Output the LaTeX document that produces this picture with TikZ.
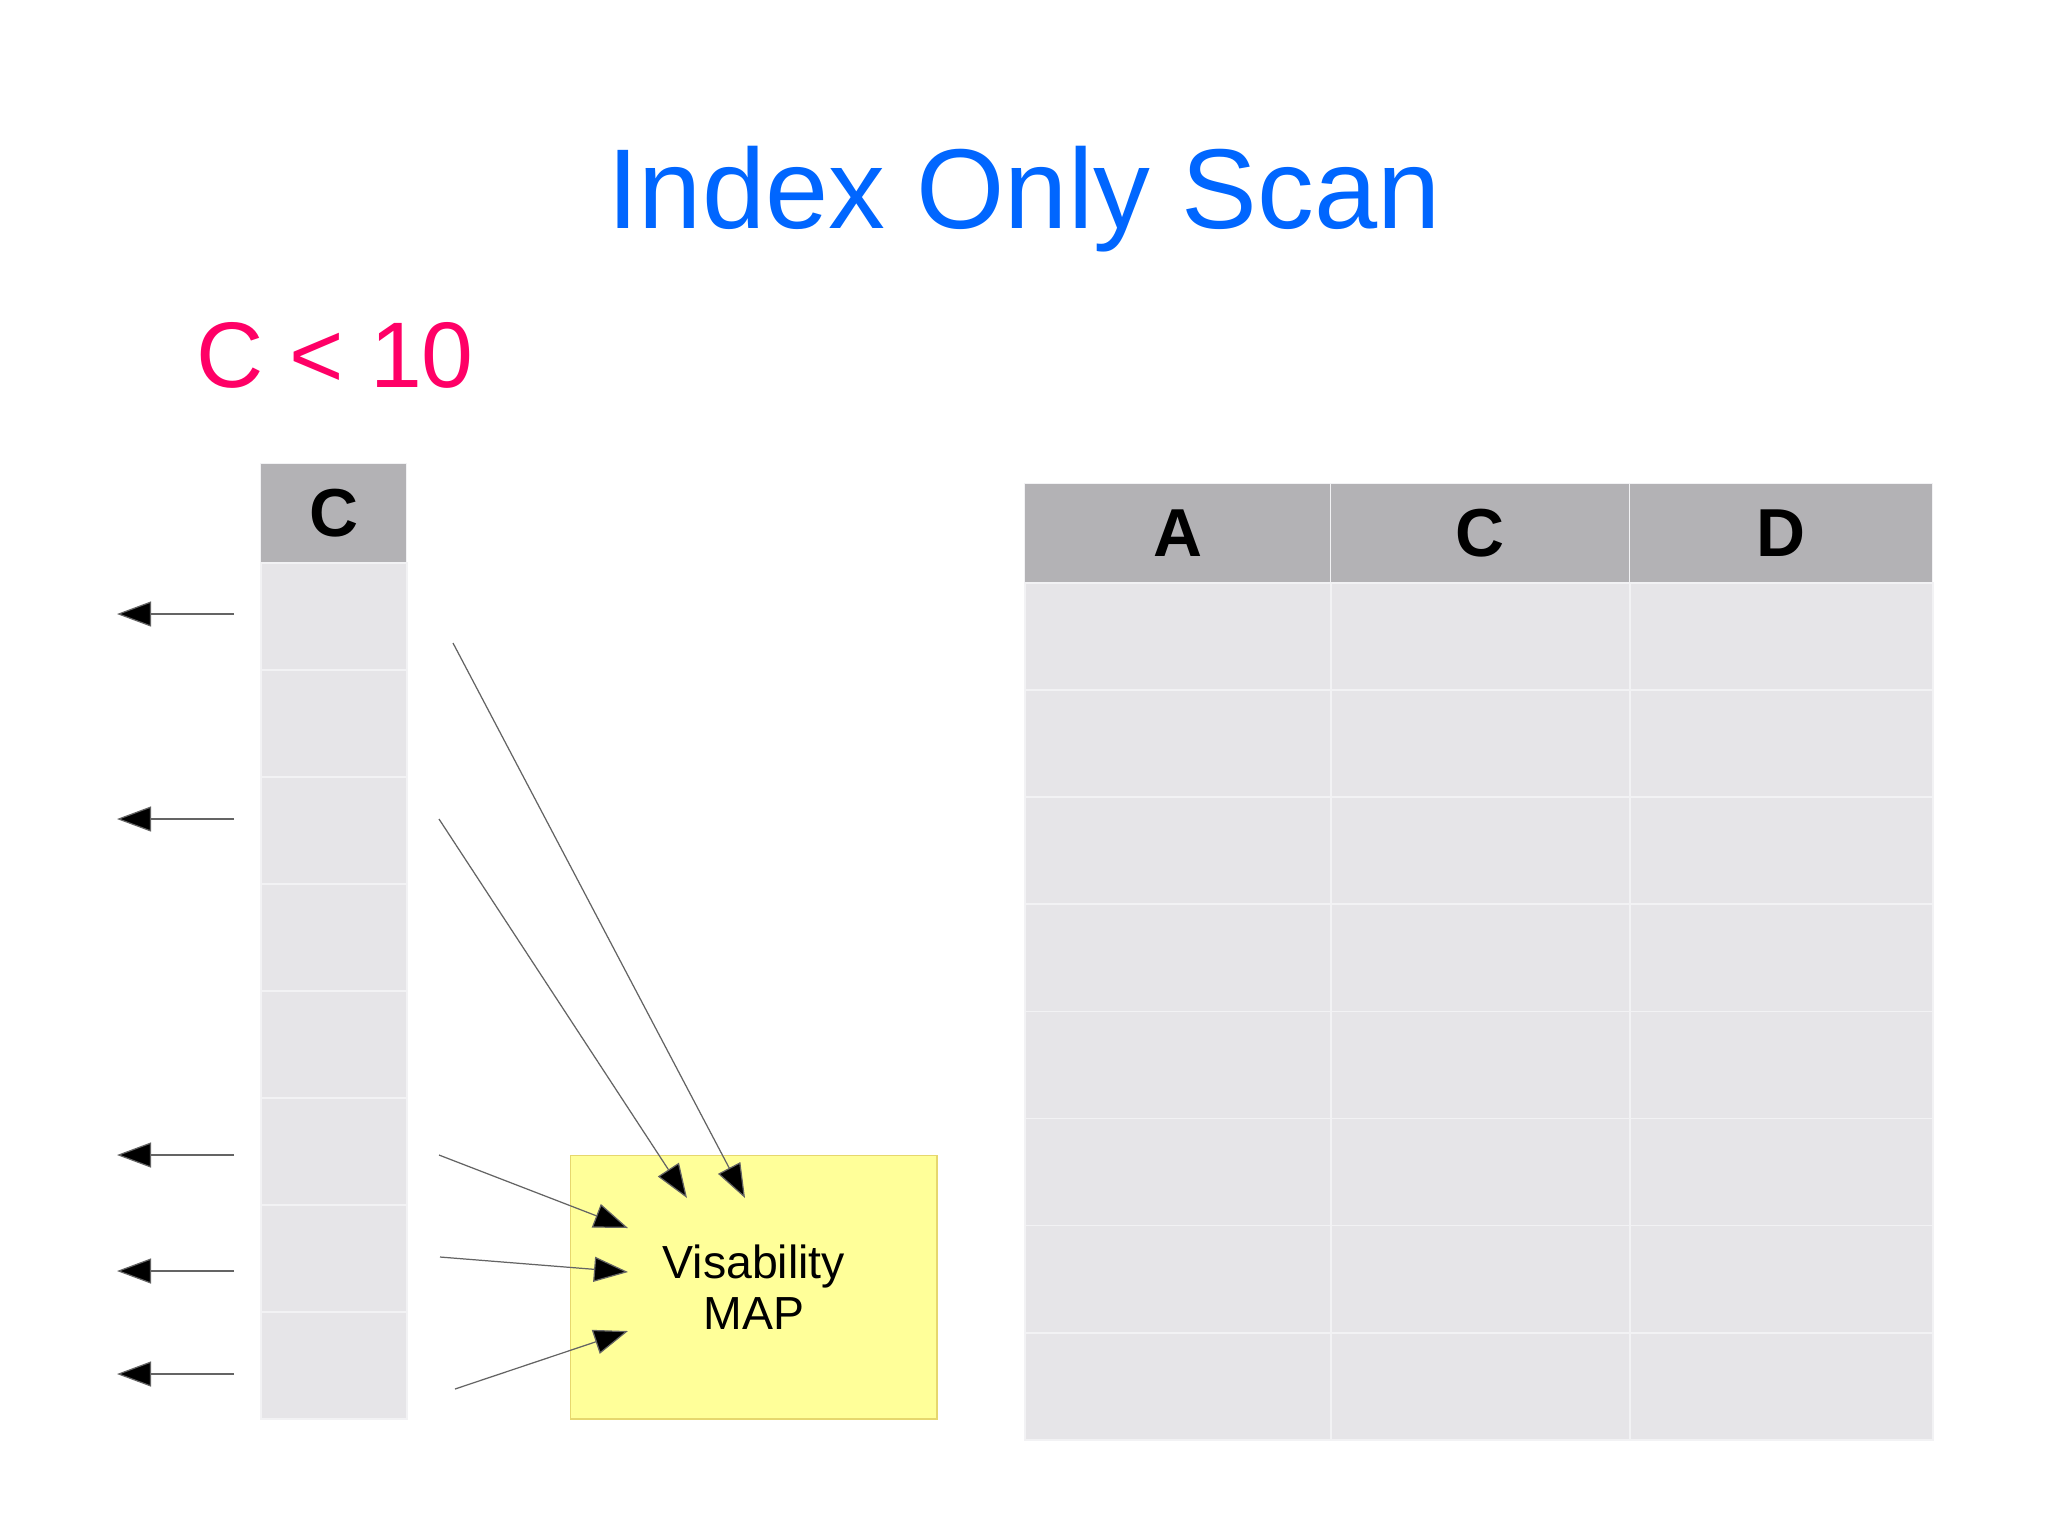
\documentclass[tikz,border=0pt]{standalone}
\usepackage{fontspec}
\setmainfont{Liberation Sans}
\usetikzlibrary{arrows.meta}
\definecolor{titleblue}{RGB}{0,102,255}
\definecolor{condpink}{RGB}{255,0,102}
\definecolor{hdrgray}{RGB}{179,178,181}
\definecolor{cellgray}{RGB}{230,229,232}
\definecolor{sepgray}{RGB}{242,242,244}
\definecolor{mapfill}{RGB}{255,255,153}
\definecolor{mapedge}{RGB}{230,215,110}
\definecolor{linegray}{RGB}{100,100,100}
\tikzset{
  hdrcell/.style={anchor=north west, fill=hdrgray, draw=sepgray, line width=0.3pt, inner sep=0pt, font=\fontsize{19.3}{22}\selectfont\bfseries},
  bodycell/.style={anchor=north west, fill=cellgray, draw=sepgray, line width=0.45pt, inner sep=0pt},
  ptr/.style={draw=linegray, line width=0.35pt, -{Triangle[length=0.34cm,width=0.25cm,fill=black]}},
}
\begin{document}
\begin{tikzpicture}[x=0.01cm,y=-0.01cm]
\useasboundingbox (0,0) rectangle (2048,1535);
\fill[white] (0,0) rectangle (2048,1535);

% title and condition
\node[anchor=base, text=titleblue, inner sep=0pt, font=\fontsize{32.3}{37}\selectfont] (title) at (1024,228) {Index Only Scan};
\node[anchor=base west, text=condpink, inner sep=0pt, font=\fontsize{26.5}{30}\selectfont] (cond) at (196,387) {C < 10};

% index column
\node[hdrcell, minimum width=1.46cm, minimum height=0.99cm] (LH) at (260,463) {C};
\foreach \i in {1,...,8} {
  \node[bodycell, minimum width=1.46cm, minimum height=1.07cm] (L\i) at (260,{562+(\i-1)*107}) {};
}

% table
\node[hdrcell, minimum width=3.06cm, minimum height=0.99cm] (HA) at (1024,483) {A};
\node[hdrcell, minimum width=2.99cm, minimum height=0.99cm] (HC) at (1330,483) {C};
\node[hdrcell, minimum width=3.03cm, minimum height=0.99cm] (HD) at (1629,483) {D};
\foreach \i in {1,...,8} {
  \node[bodycell, minimum width=3.06cm, minimum height=1.0713cm] (A\i) at (1024,{582+(\i-1)*107.13}) {};
  \node[bodycell, minimum width=2.99cm, minimum height=1.0713cm] (C\i) at (1330,{582+(\i-1)*107.13}) {};
  \node[bodycell, minimum width=3.03cm, minimum height=1.0713cm] (D\i) at (1629,{582+(\i-1)*107.13}) {};
}

% visibility map
\node[anchor=north west, fill=mapfill, draw=mapedge, line width=0.4pt, minimum width=3.66cm, minimum height=2.63cm, align=center, inner sep=0pt, font=\fontsize{13.2}{14.6}\selectfont] (vm) at (570,1155) {Visability\\MAP};

% left arrows (results)
\foreach \n/\yy in {1/614, 2/819, 3/1155, 4/1271, 5/1374} {
  \coordinate (ls\n) at (234,\yy);
  \coordinate (lt\n) at (117,\yy);
  \draw[ptr] (ls\n) -- (lt\n);
}

% arrows into visibility map
\coordinate (ms1) at (453,643);  \coordinate (mt1) at (745,1198);
\coordinate (ms2) at (439,819);  \coordinate (mt2) at (687,1198);
\coordinate (ms3) at (439,1155); \coordinate (mt3) at (628,1228);
\coordinate (ms4) at (440,1257); \coordinate (mt4) at (628,1272);
\coordinate (ms5) at (455,1389); \coordinate (mt5) at (628,1331);
\foreach \n in {1,...,5} {
  \draw[ptr] (ms\n) -- (mt\n);
}
\end{tikzpicture}
\end{document}
